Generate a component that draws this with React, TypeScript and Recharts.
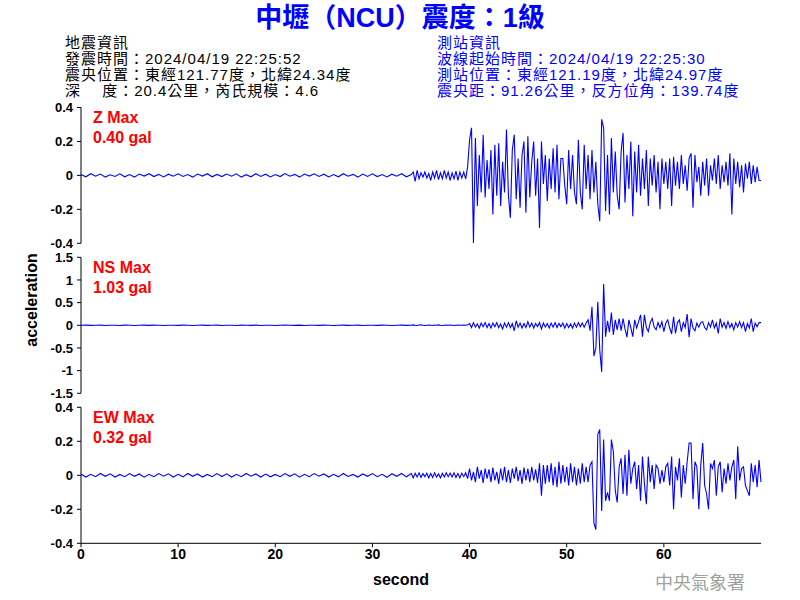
import React from "react";
import { LineChart, Line, XAxis, YAxis } from "recharts";

// sampling grid: quiet part every 0.5 s (0 – 33.5), event part every 0.2 s (34 – 70)
const NOISE_STEP = 0.5;
const EVENT_START = 34;
const EVENT_STEP = 0.2;

const Z_NOISE = [
  0.006, -0.008, 0.01, -0.005, 0.008, -0.01, 0.004, -0.006, 0.009, -0.008,
  0.005, -0.01, 0.008, -0.004, 0.01, -0.007, 0.006, -0.009, 0.007, -0.005,
  0.009, -0.006, 0.005, -0.01, 0.008, -0.004, 0.01, -0.008, 0.006, -0.007,
  0.008, -0.005, 0.009, -0.01, 0.004, -0.008, 0.01, -0.006, 0.007, -0.009,
  0.005, -0.007, 0.011, -0.005, 0.006, -0.01, 0.008, -0.004, 0.009, -0.006,
  0.007, -0.009, 0.005, -0.008, 0.01, -0.005, 0.006, -0.01, 0.008, -0.006,
  0.009, -0.007, 0.005, -0.009, 0.007, -0.005, 0.01, -0.008,
];

const Z_EVENT = [
  0.005, 0.02, -0.035, 0.03, -0.02, 0.015, -0.01, 0.02, -0.015, 0.01, // 34
  -0.03, 0.02, -0.015, 0.03, -0.025, 0.015, -0.02, 0.03, -0.015, 0.02, // 36
  -0.03, 0.015, -0.02, 0.025, -0.03, 0.02, -0.015, 0.02, -0.02, 0.05, // 38
  0.21, 0.28, -0.4, 0.22, -0.18, 0.12, -0.1, 0.24, -0.13, 0.09, // 40
  -0.08, 0.15, -0.23, 0.18, -0.12, 0.19, -0.18, 0.08, -0.1, 0.27, // 42
  -0.12, -0.25, 0.15, 0.24, -0.14, 0.1, -0.19, 0.12, 0.2, -0.22, // 44
  0.23, -0.13, 0.08, 0.2, -0.12, 0.1, -0.31, 0.2, -0.05, 0.12, // 46
  -0.15, 0.1, -0.08, 0.16, -0.1, 0.18, -0.14, 0.1, 0.1, -0.06, // 48
  -0.17, 0.15, -0.08, 0.12, -0.1, -0.17, 0.21, -0.1, -0.2, 0.18, // 50
  -0.08, 0.12, -0.14, 0.15, -0.1, 0.08, -0.17, -0.27, 0.33, 0.28, // 52
  -0.21, 0.12, -0.23, 0.22, -0.1, 0.14, -0.12, -0.2, 0.14, 0.25, // 54
  -0.16, 0.12, -0.08, 0.2, -0.24, 0.14, -0.1, 0.18, -0.12, 0.1, // 56
  -0.08, 0.15, -0.18, 0.1, -0.06, 0.12, -0.1, 0.08, -0.2, 0.1, // 58
  -0.05, 0.08, -0.08, 0.1, -0.18, 0.11, -0.06, 0.08, -0.08, 0.12, // 60
  -0.05, 0.06, -0.09, 0.1, 0.13, -0.19, 0.12, -0.04, 0.05, -0.12, // 62
  0.08, -0.06, 0.1, -0.12, 0.06, -0.03, 0.1, -0.05, 0.12, -0.08, // 64
  0.06, -0.04, 0.08, -0.06, 0.13, -0.23, 0.1, -0.05, 0.08, -0.07, // 66
  0.06, -0.1, 0.07, -0.02, 0.08, -0.05, 0.06, -0.04, 0.05, -0.03, // 68
  -0.03,
];

const NS_NOISE = [
  0, 0.003, -0.002, 0, 0.004, -0.003, 0.002, 0, -0.003, 0.003,
  0.002, -0.004, 0, 0.003, -0.002, 0.004, 0, -0.003, 0.002, 0,
  -0.002, 0.003, 0, -0.004, 0.002, 0.003, -0.002, 0, 0.004, -0.003,
  0.002, 0, -0.003, 0.003, 0, -0.002, 0.004, -0.003, 0, 0.002,
  -0.003, 0.002, 0.004, 0, -0.002, 0.003, -0.004, 0, 0.002, -0.002,
  0.003, 0, -0.003, 0.002, 0.004, -0.002, 0, 0.003, -0.003, 0.002,
  0, -0.002, 0.003, 0, -0.004, 0.002, 0.003, -0.002,
];

const NS_EVENT = [
  0, 0.01, 0, -0.005, 0.005, 0.01, 0, -0.005, 0, 0.005, // 34
  0, -0.005, 0.005, 0, 0.01, 0, -0.005, 0, 0.005, 0, // 36
  0.005, 0, -0.005, 0, 0.005, 0, 0, 0.005, 0, 0.01, // 38
  0.04, -0.05, 0.06, -0.04, 0.03, -0.06, 0.05, -0.03, 0.06, -0.05, // 40
  0.04, -0.06, 0.05, -0.03, 0.06, -0.05, 0.03, -0.08, 0.05, -0.04, // 42
  0.06, -0.05, 0.04, -0.12, 0.1, -0.04, 0.05, -0.06, 0.04, -0.05, // 44
  0.08, -0.04, 0.05, -0.06, 0.04, -0.03, 0.06, -0.08, 0.05, -0.04, // 46
  0.04, -0.06, 0.05, -0.04, 0.06, -0.05, 0.04, -0.03, 0.05, -0.06, // 48
  0.04, -0.05, 0.03, -0.06, 0.05, -0.04, 0.06, -0.03, 0.05, -0.04, // 50
  0.05, 0.12, -0.12, 0.41, -0.68, -0.5, 0.52, -0.54, -1.03, 0.91, // 52
  -0.25, 0.1, -0.15, 0.28, -0.21, 0.12, -0.1, 0.15, -0.12, 0.15, // 54
  -0.08, -0.26, 0.12, -0.05, -0.25, 0.12, -0.06, 0.08, 0.23, -0.25, // 56
  0.23, -0.05, -0.14, 0.06, 0.15, -0.04, -0.1, 0.06, -0.05, 0.08, // 58
  -0.14, 0.05, 0.12, -0.06, -0.19, 0.19, -0.18, 0.06, 0.12, -0.14, // 60
  0.06, -0.05, 0.25, -0.26, 0.15, -0.06, -0.12, 0.05, -0.04, 0.06, // 62
  0.08, -0.05, -0.1, 0.06, -0.04, 0.12, -0.06, 0.05, -0.18, 0.15, // 64
  -0.04, 0.06, -0.07, 0.08, -0.05, 0.04, -0.1, 0.06, -0.04, 0.08, // 66
  -0.05, 0.06, -0.14, 0.04, -0.06, 0.15, -0.14, 0.05, -0.03, 0.06, // 68
  0.06,
];

const EW_NOISE = [
  0.008, -0.01, 0.006, -0.008, 0.011, -0.006, 0.009, -0.01, 0.005, -0.008,
  0.01, -0.006, 0.008, -0.011, 0.006, -0.008, 0.01, -0.005, 0.009, -0.01,
  0.006, -0.009, 0.011, -0.006, 0.008, -0.01, 0.005, -0.008, 0.01, -0.007,
  0.009, -0.01, 0.006, -0.008, 0.011, -0.005, 0.008, -0.01, 0.007, -0.009,
  0.005, -0.008, 0.01, -0.006, 0.009, -0.011, 0.006, -0.008, 0.01, -0.005,
  0.008, -0.01, 0.006, -0.009, 0.011, -0.007, 0.005, -0.01, 0.008, -0.006,
  0.01, -0.008, 0.006, -0.012, 0.009, -0.006, 0.011, -0.009,
];

const EW_EVENT = [
  0.01, -0.015, 0.012, -0.01, 0.015, -0.012, 0.01, -0.008, 0.012, -0.015, // 34
  0.01, -0.012, 0.015, -0.01, 0.008, -0.015, 0.012, -0.01, 0.015, -0.008, // 36
  0.012, -0.01, 0.015, -0.012, 0.01, -0.015, 0.012, -0.008, 0.015, -0.02, // 38
  0.04, -0.03, 0.02, -0.04, 0.05, -0.02, 0.03, -0.045, 0.04, -0.02, // 40
  0.035, -0.04, 0.045, -0.03, 0.02, -0.05, 0.04, -0.03, 0.05, -0.04, // 42
  0.03, -0.045, 0.04, -0.02, 0.05, -0.035, 0.03, -0.05, 0.045, -0.03, // 44
  0.04, -0.04, 0.05, -0.03, 0.035, -0.045, 0.07, -0.12, 0.06, -0.05, // 46
  0.06, -0.04, 0.07, -0.06, 0.05, -0.07, 0.08, -0.05, 0.06, -0.04, // 48
  0.05, -0.06, 0.07, -0.04, 0.05, -0.06, 0.04, -0.05, 0.07, -0.04, // 50
  0.05, -0.04, 0.06, 0.08, -0.28, -0.32, 0.24, 0.27, -0.21, 0.21, // 52
  -0.15, -0.1, -0.15, 0.21, 0.14, -0.09, -0.16, 0.05, 0.1, -0.11, // 54
  0.12, -0.12, 0.15, -0.05, 0.04, 0.08, -0.08, 0.06, -0.15, 0.11, // 56
  -0.05, -0.17, 0.11, -0.04, 0.06, -0.08, 0.06, 0.04, -0.05, 0.03, // 58
  -0.04, 0.05, 0.07, -0.06, 0.11, -0.2, 0.05, -0.03, 0.1, -0.13, // 60
  0.06, -0.05, 0.08, 0.19, 0.19, -0.14, 0.08, 0.05, -0.2, 0.06, // 62
  0.19, -0.06, -0.11, -0.2, 0.07, 0.04, 0.09, -0.12, 0.05, 0.08, // 64
  -0.1, 0.04, -0.05, 0.07, -0.03, 0.05, 0.09, -0.14, 0.17, -0.03, // 66
  0.04, 0.05, -0.06, -0.09, -0.12, 0.07, -0.04, 0.06, -0.07, 0.09, // 68
  -0.04,
];

const X_TICKS = [0, 10, 20, 30, 40, 50, 60];
const SMALL_TICKS = [-0.4, -0.2, 0, 0.2, 0.4];
const NS_TICKS = [-1.5, -1, -0.5, 0, 0.5, 1, 1.5];

const TITLE = "中壢（NCU）震度：1級";
const QUAKE_INFO = [
  "地震資訊",
  "發震時間：2024/04/19 22:25:52",
  "震央位置：東經121.77度，北緯24.34度",
  "深　 度：20.4公里，芮氏規模：4.6",
];
const STATION_INFO = [
  "測站資訊",
  "波線起始時間：2024/04/19 22:25:30",
  "測站位置：東經121.19度，北緯24.97度",
  "震央距：91.26公里，反方位角：139.74度",
];

const PANEL_NAMES = ["Z Max", "NS Max", "EW Max"];
const PANEL_PEAKS = ["0.40 gal", "1.03 gal", "0.32 gal"];

const data: { t: number; z: number; ns: number; ew: number }[] = [];
Z_NOISE.forEach((v, i) => {
  data.push({ t: i * NOISE_STEP, z: v, ns: NS_NOISE[i], ew: EW_NOISE[i] });
});
Z_EVENT.forEach((v, i) => {
  data.push({
    t: +(EVENT_START + i * EVENT_STEP).toFixed(1),
    z: v,
    ns: NS_EVENT[i],
    ew: EW_EVENT[i],
  });
});

const FONT = '"Liberation Sans", Arial, "Noto Sans CJK TC", sans-serif';
const BLUE = "#0000ff";

const tickStyle = { fill: "#000", fontSize: 13, fontWeight: "bold", fontFamily: FONT };

function Panel({
  top,
  height,
  dataKey,
  domain,
  ticks,
  marginTop,
  marginBottom,
  showX,
}: {
  top: number;
  height: number;
  dataKey: string;
  domain: [number, number];
  ticks: number[];
  marginTop: number;
  marginBottom: number;
  showX?: boolean;
}) {
  return (
    <div style={{ position: "absolute", left: 0, top }}>
      <LineChart
        width={800}
        height={height}
        data={data}
        margin={{ top: marginTop, right: 39, bottom: marginBottom, left: 0 }}
      >
        <XAxis
          dataKey="t"
          type="number"
          domain={[0, 70]}
          ticks={X_TICKS}
          interval={0}
          hide={!showX}
          height={20}
          tickSize={4}
          axisLine={{ stroke: "#000" }}
          tickLine={{ stroke: "#000" }}
          tick={{ ...tickStyle, fontSize: 14 }}
        />
        <YAxis
          type="number"
          domain={domain}
          ticks={ticks}
          interval={0}
          allowDataOverflow
          width={81}
          tickSize={4}
          tickMargin={4}
          axisLine={{ stroke: "#000" }}
          tickLine={{ stroke: "#000" }}
          tick={tickStyle}
        />
        <Line
          type="linear"
          dataKey={dataKey}
          stroke={BLUE}
          strokeWidth={1.1}
          dot={false}
          activeDot={false}
          isAnimationActive={false}
        />
      </LineChart>
    </div>
  );
}

const abs = (top: number, left: number): React.CSSProperties => ({
  position: "absolute",
  top,
  left,
  whiteSpace: "pre",
});

const infoStyle: React.CSSProperties = {
  fontSize: 15,
  lineHeight: "16px",
  letterSpacing: 1,
};

export default function App() {
  const labelTops = [108, 258, 408];
  return (
    <div
      style={{
        position: "absolute",
        left: 0,
        top: 0,
        width: 800,
        height: 600,
        background: "#fff",
        fontFamily: FONT,
      }}
    >
      <div
        style={{
          ...abs(3, 0),
          width: 800,
          textAlign: "center",
          fontSize: 27,
          lineHeight: "30px",
          fontWeight: "bold",
          color: BLUE,
        }}
      >
        {TITLE}
      </div>
      {QUAKE_INFO.map((line, i) => (
        <div key={line} style={{ ...abs(35 + i * 16, 65), ...infoStyle, color: "#000" }}>
          {line}
        </div>
      ))}
      {STATION_INFO.map((line, i) => (
        <div key={line} style={{ ...abs(35 + i * 16, 437), ...infoStyle, color: BLUE }}>
          {line}
        </div>
      ))}

      <Panel top={100} height={150} dataKey="z" domain={[-0.4, 0.4]} ticks={SMALL_TICKS} marginTop={7.5} marginBottom={6.7} />
      <Panel top={250} height={150} dataKey="ns" domain={[-1.5, 1.5]} ticks={NS_TICKS} marginTop={7.3} marginBottom={6.7} />
      <Panel top={400} height={200} dataKey="ew" domain={[-0.4, 0.4]} ticks={SMALL_TICKS} marginTop={7.3} marginBottom={36.7} showX />

      {PANEL_NAMES.map((name, i) => (
        <React.Fragment key={name}>
          <div style={{ ...abs(labelTops[i], 93), fontSize: 16, lineHeight: "20px", fontWeight: "bold", color: "#ff0000" }}>
            {name}
          </div>
          <div style={{ ...abs(labelTops[i] + 20, 93), fontSize: 16, lineHeight: "20px", fontWeight: "bold", color: "#ff0000" }}>
            {PANEL_PEAKS[i]}
          </div>
        </React.Fragment>
      ))}

      <div
        style={{
          ...abs(300, 32),
          fontSize: 16,
          fontWeight: "bold",
          lineHeight: "20px",
          transform: "translate(-50%, -50%) rotate(-90deg)",
        }}
      >
        acceleration
      </div>
      <div style={{ ...abs(570, 0), width: 802, textAlign: "center", fontSize: 16, fontWeight: "bold", lineHeight: "20px" }}>
        second
      </div>
      <div style={{ ...abs(570, 655), fontSize: 18, lineHeight: "22px", color: "#a0a0a0", fontFamily: '"Noto Sans CJK TC", serif' }}>
        中央氣象署
      </div>
    </div>
  );
}
